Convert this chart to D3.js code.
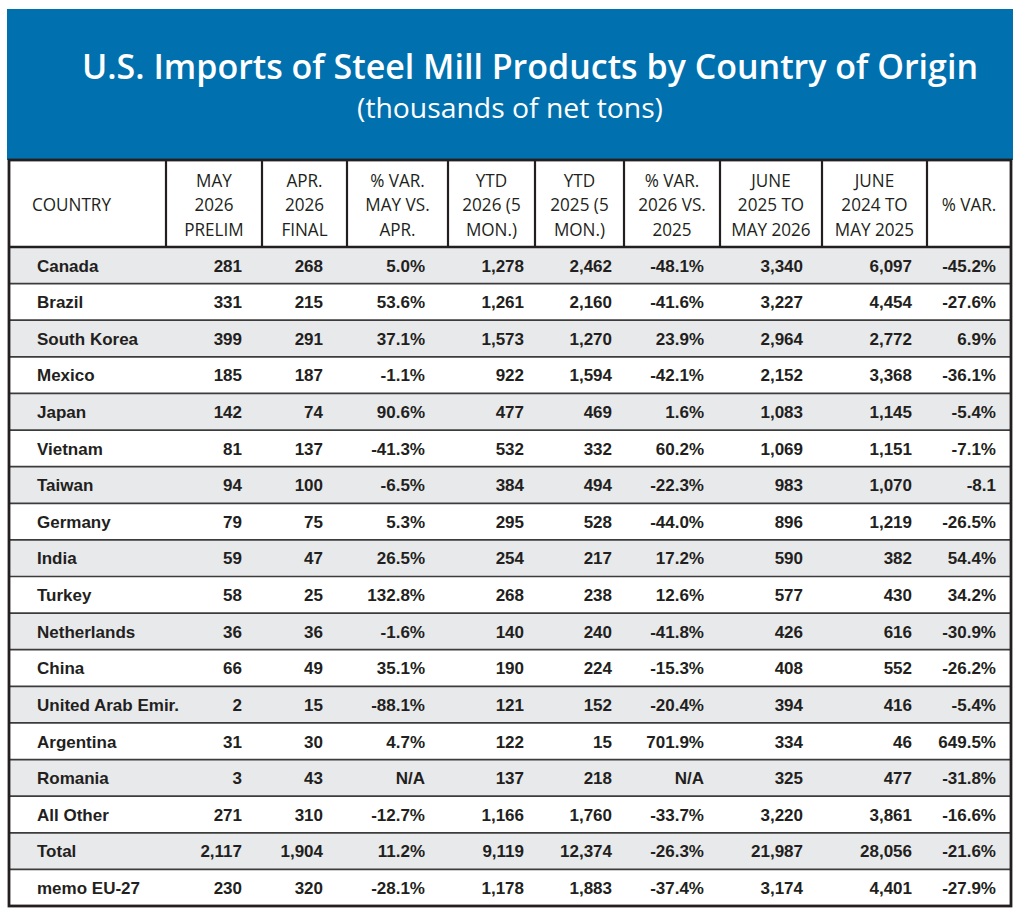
<!DOCTYPE html>
<html>
<head>
<meta charset="utf-8">
<script src="https://cdn.jsdelivr.net/npm/d3@7"></script>
<style>
  body { margin: 0; background: #fff; }
</style>
</head>
<body>
<div id="steel-table"></div>
<script>
// table content
const countries = ["Canada", "Brazil", "South Korea", "Mexico", "Japan", "Vietnam", "Taiwan",
  "Germany", "India", "Turkey", "Netherlands", "China", "United Arab Emir.", "Argentina",
  "Romania", "All Other", "Total", "memo EU-27"];
const may2026 = [281, 331, 399, 185, 142, 81, 94, 79, 59, 58, 36, 66, 2, 31, 3, 271, 2117, 230];
const apr2026 = [268, 215, 291, 187, 74, 137, 100, 75, 47, 25, 36, 49, 15, 30, 43, 310, 1904, 320];
const varMayApr = ["5.0%", "53.6%", "37.1%", "-1.1%", "90.6%", "-41.3%", "-6.5%", "5.3%", "26.5%",
  "132.8%", "-1.6%", "35.1%", "-88.1%", "4.7%", "N/A", "-12.7%", "11.2%", "-28.1%"];
const ytd2026 = [1278, 1261, 1573, 922, 477, 532, 384, 295, 254, 268, 140, 190, 121, 122, 137, 1166, 9119, 1178];
const ytd2025 = [2462, 2160, 1270, 1594, 469, 332, 494, 528, 217, 238, 240, 224, 152, 15, 218, 1760, 12374, 1883];
const varYtd = ["-48.1%", "-41.6%", "23.9%", "-42.1%", "1.6%", "60.2%", "-22.3%", "-44.0%", "17.2%",
  "12.6%", "-41.8%", "-15.3%", "-20.4%", "701.9%", "N/A", "-33.7%", "-26.3%", "-37.4%"];
const jun25May26 = [3340, 3227, 2964, 2152, 1083, 1069, 983, 896, 590, 577, 426, 408, 394, 334, 325, 3220, 21987, 3174];
const jun24May25 = [6097, 4454, 2772, 3368, 1145, 1151, 1070, 1219, 382, 430, 616, 552, 416, 46, 477, 3861, 28056, 4401];
const var12 = ["-45.2%", "-27.6%", "6.9%", "-36.1%", "-5.4%", "-7.1%", "-8.1", "-26.5%", "54.4%",
  "34.2%", "-30.9%", "-26.2%", "-5.4%", "649.5%", "-31.8%", "-16.6%", "-21.6%", "-27.9%"];

const headerLabels = [
  ["COUNTRY"],
  ["MAY", "2026", "PRELIM"],
  ["APR.", "2026", "FINAL"],
  ["% VAR.", "MAY VS.", "APR."],
  ["YTD", "2026 (5", "MON.)"],
  ["YTD", "2025 (5", "MON.)"],
  ["% VAR.", "2026 VS.", "2025"],
  ["JUNE", "2025 TO", "MAY 2026"],
  ["JUNE", "2024 TO", "MAY 2025"],
  ["% VAR."]
];
const title = "U.S. Imports of Steel Mill Products by Country of Origin";
const subtitle = "(thousands of net tons)";

// layout
const W = 1024, H = 916;
const colEdges = [8, 166, 262, 347, 448, 535, 624, 720, 822, 927, 1011];
const padRight = [20, 24, 23, 11, 12, 16, 19, 15, 15];
const tableTop = 160, headBottom = 247, tableBottom = 906;
const blue = "#0071ae", ink = "#231f20", rowGray = "#e8e9eb";

const columns = [may2026, apr2026, varMayApr, ytd2026, ytd2025, varYtd, jun25May26, jun24May25, var12];
const fmt = d3.format(",");

const svg = d3.select("#steel-table")
  .append("svg")
    .attr("width", W)
    .attr("height", H);

// squeeze wide fonts so they sit like the condensed print face
function condense(sel, k) {
  sel.each(function() {
    const w = this.getComputedTextLength();
    d3.select(this).attr("textLength", w * k).attr("lengthAdjust", "spacingAndGlyphs");
  });
}

// fit a centred text to a given width with a horizontal scale
function fitWidth(sel, cx, cy, target) {
  sel.each(function() {
    const w = this.getComputedTextLength();
    d3.select(this).attr("transform", `translate(${cx},${cy}) scale(${target / w},1)`);
  });
}

// blue title band
svg.append("rect")
  .attr("x", 7).attr("y", 9)
  .attr("width", 1006).attr("height", tableTop - 9)
  .attr("fill", blue);

svg.append("text")
  .attr("text-anchor", "middle")
  .attr("fill", "#fff")
  .style("font-family", "'Open Sans', sans-serif")
  .style("font-weight", 600)
  .style("font-size", "35px")
  .text(title)
  .call(fitWidth, 530, 79, 896);

svg.append("text")
  .attr("text-anchor", "middle")
  .attr("fill", "#fff")
  .style("font-family", "'Open Sans', sans-serif")
  .style("font-size", "28px")
  .text(subtitle)
  .call(fitWidth, 510, 118, 306);

// rows
const y = d3.scaleBand()
  .domain(countries)
  .range([headBottom, tableBottom]);

svg.append("rect")
  .attr("x", colEdges[0]).attr("y", tableTop)
  .attr("width", colEdges[10] - colEdges[0]).attr("height", headBottom - tableTop)
  .attr("fill", "#fff");

svg.selectAll("rect.row")
  .data(countries)
  .enter()
  .append("rect")
    .attr("class", "row")
    .attr("x", colEdges[0])
    .attr("y", d => y(d))
    .attr("width", colEdges[10] - colEdges[0])
    .attr("height", y.bandwidth())
    .attr("fill", (d, i) => i % 2 === 0 ? rowGray : "#fff");

// row separators
svg.selectAll("line.sep")
  .data(countries.slice(1))
  .enter()
  .append("line")
    .attr("x1", colEdges[0]).attr("x2", colEdges[10])
    .attr("y1", d => y(d)).attr("y2", d => y(d))
    .attr("stroke", "#3c3c3c")
    .attr("stroke-width", 1.7);

// header grid
svg.selectAll("line.hv")
  .data(colEdges.slice(1, -1))
  .enter()
  .append("line")
    .attr("x1", d => d).attr("x2", d => d)
    .attr("y1", tableTop).attr("y2", headBottom)
    .attr("stroke", ink)
    .attr("stroke-width", 2.2);

svg.append("line")
  .attr("x1", colEdges[0]).attr("x2", colEdges[10])
  .attr("y1", headBottom).attr("y2", headBottom)
  .attr("stroke", ink)
  .attr("stroke-width", 2.6);

svg.append("rect")
  .attr("x", colEdges[0] + 1).attr("y", tableTop)
  .attr("width", colEdges[10] - colEdges[0] - 1).attr("height", tableBottom - tableTop)
  .attr("fill", "none")
  .attr("stroke", ink)
  .attr("stroke-width", 2.8);

// header text
const headG = svg.append("g")
  .style("font-family", "'Open Sans', sans-serif")
  .style("font-size", "19px")
  .attr("fill", ink);

headerLabels.forEach((lines, c) => {
  const cx = c === 0 ? 32 : (colEdges[c] + colEdges[c + 1]) / 2;
  const y0 = lines.length === 1 ? 211 : 186.5;
  lines.forEach((t, k) => {
    headG.append("text")
      .attr("x", cx)
      .attr("y", y0 + k * 24.5)
      .attr("text-anchor", c === 0 ? "start" : "middle")
      .text(t)
      .call(condense, 0.9);
  });
});

// body text
const body = svg.append("g")
  .style("font-family", "'Liberation Sans', Arial, sans-serif")
  .style("font-weight", "bold")
  .style("font-size", "17px")
  .attr("fill", ink);

body.selectAll("text.country")
  .data(countries)
  .enter()
  .append("text")
    .attr("x", 37)
    .attr("y", d => y(d) + y.bandwidth() / 2 + 6.3)
    .text(d => d);

columns.forEach((vals, c) => {
  body.selectAll("text.c" + c)
    .data(vals)
    .enter()
    .append("text")
      .attr("x", colEdges[c + 2] - padRight[c])
      .attr("y", (d, i) => y(countries[i]) + y.bandwidth() / 2 + 6.3)
      .attr("text-anchor", "end")
      .text(d => typeof d === "number" ? fmt(d) : d);
});
</script>
</body>
</html>
